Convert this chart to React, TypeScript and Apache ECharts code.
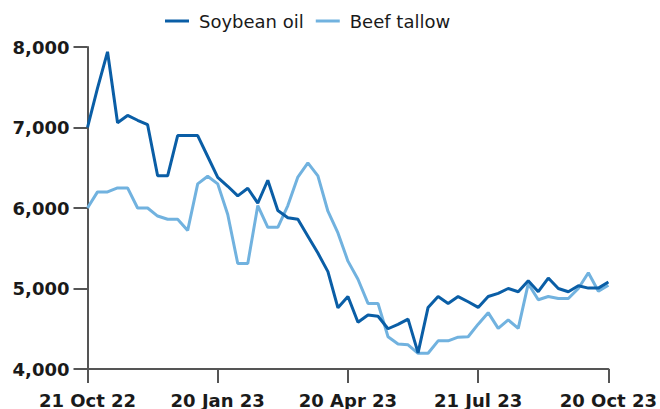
import React, { useEffect, useRef } from "react";
import * as echarts from "echarts";

const dates = [
  "21 Oct 22", "28 Oct 22", "4 Nov 22", "11 Nov 22", "18 Nov 22", "25 Nov 22", "2 Dec 22",
  "9 Dec 22", "16 Dec 22", "23 Dec 22", "30 Dec 22", "6 Jan 23", "13 Jan 23", "20 Jan 23",
  "27 Jan 23", "3 Feb 23", "10 Feb 23", "17 Feb 23", "24 Feb 23", "3 Mar 23", "10 Mar 23",
  "17 Mar 23", "24 Mar 23", "31 Mar 23", "7 Apr 23", "14 Apr 23", "20 Apr 23", "28 Apr 23",
  "5 May 23", "12 May 23", "19 May 23", "26 May 23", "2 Jun 23", "9 Jun 23", "16 Jun 23",
  "23 Jun 23", "30 Jun 23", "7 Jul 23", "14 Jul 23", "21 Jul 23", "28 Jul 23", "4 Aug 23",
  "11 Aug 23", "18 Aug 23", "25 Aug 23", "1 Sep 23", "8 Sep 23", "15 Sep 23", "22 Sep 23",
  "29 Sep 23", "6 Oct 23", "13 Oct 23", "20 Oct 23",
];

const soybeanOil = [
  7000, 7490, 7940, 7060, 7150, 7090, 7035, 6400, 6400, 6900, 6900, 6900, 6640, 6380,
  6270, 6150, 6245, 6060, 6345, 5970, 5880, 5860, 5650, 5440, 5210, 4760, 4900, 4580,
  4670, 4655, 4500, 4555, 4620, 4200, 4765, 4900, 4815, 4900, 4835, 4765, 4900, 4940,
  5000, 4960, 5095, 4960, 5130, 5000, 4960, 5035, 5005, 5005, 5080,
];

const beefTallow = [
  6000, 6200, 6200, 6250, 6250, 6000, 6000, 5900, 5860, 5860, 5720, 6300, 6395, 6300,
  5920, 5310, 5310, 6030, 5760, 5760, 6030, 6385, 6560, 6400, 5960, 5690, 5340, 5115,
  4815, 4815, 4400, 4310, 4300, 4195, 4195, 4350, 4350, 4395, 4400, 4557, 4700, 4505,
  4610, 4505, 5060, 4860, 4900, 4875, 4875, 5000, 5195, 4965, 5040,
];

const yMin = 4000;
const yMax = 8000;
const yStep = 1000;

const FONT = "DejaVu Sans";
const TEXT = "#1a1a1a";
const AXIS = "#555555";

export default function App() {
  const ref = useRef<HTMLDivElement>(null);
  useEffect(() => {
    if (!ref.current) return;
    const chart = echarts.init(ref.current, undefined, { renderer: "svg" });
    chart.setOption({
      animation: false,
      backgroundColor: "#ffffff",
      legend: {
        left: 160,
        top: 7,
        itemWidth: 24,
        itemHeight: 3,
        itemGap: 12,
        icon: "rect",
        textStyle: { fontFamily: FONT, fontSize: 18, color: TEXT, padding: [0, 0, 0, 5] },
        data: ["Soybean oil", "Beef tallow"],
      },
      grid: { left: 87.5, right: 50.5, top: 47, bottom: 39.5, containLabel: false },
      xAxis: {
        type: "category",
        data: dates,
        boundaryGap: false,
        axisLine: { lineStyle: { color: AXIS, width: 2 } },
        axisTick: { show: true, length: 14, interval: 12, lineStyle: { color: AXIS, width: 2 } },
        axisLabel: {
          interval: 12,
          margin: 22,
          fontFamily: FONT,
          fontWeight: "bold",
          fontSize: 18,
          color: TEXT,
        },
        splitLine: { show: false },
      },
      yAxis: {
        type: "value",
        min: yMin,
        max: yMax,
        interval: yStep,
        axisLine: { show: true, lineStyle: { color: AXIS, width: 2 } },
        axisTick: { show: true, length: 14, lineStyle: { color: AXIS, width: 2 } },
        axisLabel: {
          margin: 18,
          fontFamily: FONT,
          fontWeight: "bold",
          fontSize: 18,
          color: TEXT,
          formatter: (v: number) => v.toLocaleString("en-US"),
        },
        splitLine: { show: false },
      },
      series: [
        {
          name: "Soybean oil",
          type: "line",
          data: soybeanOil,
          symbol: "none",
          color: "#0a5ea6",
          lineStyle: { width: 3, color: "#0a5ea6" },
          z: 3,
        },
        {
          name: "Beef tallow",
          type: "line",
          data: beefTallow,
          symbol: "none",
          color: "#71b2df",
          lineStyle: { width: 3, color: "#71b2df" },
          z: 2,
        },
      ],
    });
    return () => chart.dispose();
  }, []);
  return <div ref={ref} style={{ width: 660, height: 409, position: "absolute", left: 0, top: 0 }} />;
}
